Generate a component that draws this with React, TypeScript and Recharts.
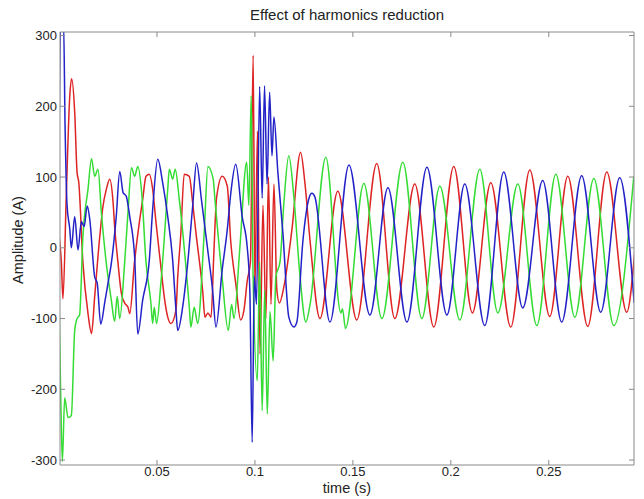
import React from 'react';
import { LineChart, Line, XAxis, YAxis } from 'recharts';

// [time (s), amplitude (A)]
const redSeries: [number, number][] = [
  [0.0000, 18], [0.0012, -21], [0.0020, -72], [0.0037, 73], [0.0055, 215], [0.0064, 239],
  [0.0080, 192], [0.0092, 107], [0.0101, 92], [0.0122, -21], [0.0148, -93], [0.0166, -121],
  [0.0182, -69], [0.0208, 16], [0.0224, 58], [0.0241, 82], [0.0259, 97], [0.0276, 64],
  [0.0284, 30], [0.0301, -21], [0.0318, -64], [0.0335, -78], [0.0352, -84], [0.0361, -93],
  [0.0385, -21], [0.0410, 36], [0.0427, 68], [0.0444, 101], [0.0461, 104], [0.0478, 83],
  [0.0495, 36], [0.0520, -27], [0.0537, -69], [0.0555, -98], [0.0571, -107], [0.0597, -88],
  [0.0606, -41], [0.0622, 21], [0.0639, 104], [0.0665, 101], [0.0682, 64], [0.0699, 21],
  [0.0733, -60], [0.0745, -98], [0.0760, -92], [0.0776, -98], [0.0790, -10], [0.0804, 70],
  [0.0833, 101], [0.0859, 87], [0.0876, 11], [0.0902, -50], [0.0927, -102], [0.0944, -88],
  [0.0961, -46], [0.0977, -20], [0.0991, 272], [0.1000, -60], [0.1013, 165], [0.1026, -150],
  [0.1041, 60], [0.1056, -100], [0.1069, 100], [0.1082, -80], [0.1097, 90], [0.1112, -60],
  [0.1125, -78], [0.1148, -55], [0.1189, 26], [0.1233, 135], [0.1255, 92], [0.1281, 11],
  [0.1332, -100], [0.1423, 80], [0.1520, -102], [0.1622, 119], [0.1714, -100], [0.1816, 90],
  [0.1913, -112], [0.2015, 115], [0.2110, -92], [0.2204, 92], [0.2306, -112], [0.2403, 110],
  [0.2505, -97], [0.2597, 101], [0.2699, -111], [0.2796, 107], [0.2898, -91], [0.2939, -5],
];

const greenSeries: [number, number][] = [
  [0.0001, -90], [0.0008, -200], [0.0017, -302], [0.0029, -212], [0.0046, -240], [0.0063, -237],
  [0.0080, -117], [0.0092, -100], [0.0105, -95], [0.0122, 16], [0.0148, 83], [0.0166, 126],
  [0.0182, 101], [0.0199, 111], [0.0216, 50], [0.0241, -21], [0.0267, -74], [0.0284, -104],
  [0.0297, -69], [0.0310, -100], [0.0335, -21], [0.0352, 50], [0.0370, 113], [0.0386, 101],
  [0.0402, 115], [0.0422, 78], [0.0444, -20], [0.0469, -78], [0.0478, -107], [0.0486, -84],
  [0.0498, -107], [0.0520, -50], [0.0555, 83], [0.0563, 111], [0.0580, 97], [0.0593, 111],
  [0.0614, 68], [0.0665, -84], [0.0673, -112], [0.0690, -84], [0.0708, -107], [0.0741, 21],
  [0.0760, 115], [0.0787, 97], [0.0796, 68], [0.0832, -40], [0.0864, -117], [0.0881, -80],
  [0.0893, -100], [0.0923, 0], [0.0958, 121], [0.0969, 60], [0.0981, 215], [0.0990, -30],
  [0.1012, -188], [0.1024, -20], [0.1037, -230], [0.1050, -60], [0.1063, -235], [0.1077, -90],
  [0.1093, -160], [0.1107, -41], [0.1128, -20], [0.1148, 64], [0.1173, 130], [0.1199, 71],
  [0.1230, -40], [0.1260, -105], [0.1281, -81], [0.1362, 128], [0.1439, -92], [0.1447, -86],
  [0.1462, -114], [0.1556, 91], [0.1648, -100], [0.1755, 121], [0.1852, -100], [0.1944, 87],
  [0.2046, -102], [0.2148, 111], [0.2240, -92], [0.2342, 90], [0.2439, -110], [0.2536, 104],
  [0.2633, -98], [0.2730, 98], [0.2832, -110], [0.2934, 101],
];

const blueSeries: [number, number][] = [
  [0.0001, 175], [0.0008, 320], [0.0023, 320], [0.0031, 170], [0.0041, 60], [0.0055, 26],
  [0.0063, 0], [0.0080, 44], [0.0097, -3], [0.0114, 37], [0.0128, 30], [0.0144, 59],
  [0.0157, 40], [0.0182, -41], [0.0195, -50], [0.0213, -108], [0.0233, -78], [0.0250, -50],
  [0.0267, -22], [0.0292, 44], [0.0310, 108], [0.0327, 78], [0.0343, 73], [0.0361, 44],
  [0.0386, -13], [0.0402, -122], [0.0427, -74], [0.0461, -17], [0.0478, 54], [0.0504, 125],
  [0.0529, 92], [0.0555, 44], [0.0580, -17], [0.0597, -88], [0.0606, -117], [0.0631, -84],
  [0.0657, -21], [0.0682, 58], [0.0702, 120], [0.0727, 68], [0.0759, -3], [0.0784, -60],
  [0.0801, -112], [0.0833, -31], [0.0859, 26], [0.0876, 75], [0.0902, 118], [0.0935, 44],
  [0.0961, 0], [0.0974, -60], [0.0986, -275], [0.0997, -40], [0.1008, -80], [0.1024, 228],
  [0.1037, 70], [0.1049, 229], [0.1062, 90], [0.1075, 220], [0.1087, 130], [0.1097, 185],
  [0.1117, 107], [0.1143, 20], [0.1173, -98], [0.1199, -112], [0.1214, -105], [0.1245, 10],
  [0.1276, 70], [0.1291, 77], [0.1306, 72], [0.1383, -105], [0.1480, 117], [0.1587, -95],
  [0.1679, 85], [0.1776, -105], [0.1878, 114], [0.1980, -95], [0.2071, 90], [0.2173, -110],
  [0.2270, 107], [0.2367, -85], [0.2469, 95], [0.2566, -105], [0.2668, 102], [0.2765, -91],
  [0.2862, 99], [0.2936, -78],
];

const xTicks = [0.05, 0.1, 0.15, 0.2, 0.25];
const xTickLabels = ['0.05', '0.1', '0.15', '0.2', '0.25'];
const yTicks = [-300, -200, -100, 0, 100, 200, 300];
const yTickLabels = ['-300', '-200', '-100', '0', '100', '200', '300'];

const chartTitle = 'Effect of harmonics reduction';
const xLabel = 'time (s)';
const yLabel = 'Amplitude (A)';

const toRows = (s: [number, number][]) => s.map(([t, v]) => ({ t, v }));
const redData = toRows(redSeries);
const greenData = toRows(greenSeries);
const blueData = toRows(blueSeries);

const FONT = '"Liberation Sans", Arial, Helvetica, sans-serif';
const FRAME = '#8a8a8a';
const TICK_LEN = 5;

const BottomTick = (p: any) => {
  const i = xTicks.indexOf(p.payload.value);
  return (
    <g>
      <line x1={p.x} y1={p.y} x2={p.x} y2={p.y - TICK_LEN} stroke={FRAME} />
      <text x={p.x} y={p.y + 11} textAnchor="middle" fontSize={13} fill="#222" fontFamily={FONT}>
        {i >= 0 ? xTickLabels[i] : String(p.payload.value)}
      </text>
    </g>
  );
};
const TopTick = (p: any) => (
  <line x1={p.x} y1={p.y} x2={p.x} y2={p.y + TICK_LEN} stroke={FRAME} />
);
const LeftTick = (p: any) => {
  const i = yTicks.indexOf(p.payload.value);
  return (
    <g>
      <line x1={p.x} y1={p.y} x2={p.x + TICK_LEN} y2={p.y} stroke={FRAME} />
      <text x={p.x - 3} y={p.y + 4.5} textAnchor="end" fontSize={13} fill="#222" fontFamily={FONT}>
        {i >= 0 ? yTickLabels[i] : String(p.payload.value)}
      </text>
    </g>
  );
};
const RightTick = (p: any) => (
  <line x1={p.x} y1={p.y} x2={p.x - TICK_LEN} y2={p.y} stroke={FRAME} />
);

export default function App() {
  const xDomain: [number, number] = [0.0005, 0.2935];
  const yDomain: [number, number] = [-307, 305];
  return (
    <div style={{ position: 'absolute', left: 0, top: 0, width: 644, height: 499, background: '#fff', fontFamily: FONT }}>
      <LineChart width={644} height={499} data={redData} margin={{ top: 2, right: 0, bottom: 4, left: 0 }}>
        <XAxis xAxisId="b" dataKey="t" type="number" domain={xDomain} ticks={xTicks} allowDataOverflow
          orientation="bottom" height={30} tickSize={0} tickMargin={0} tickLine={false}
          axisLine={{ stroke: FRAME }} tick={BottomTick} interval={0} />
        <XAxis xAxisId="top" dataKey="t" type="number" domain={xDomain} ticks={xTicks} allowDataOverflow
          orientation="top" height={30} tickSize={0} tickMargin={0} tickLine={false}
          axisLine={{ stroke: FRAME }} tick={TopTick} interval={0} />
        <YAxis yAxisId="l" type="number" domain={yDomain} ticks={yTicks} allowDataOverflow
          orientation="left" width={60} tickSize={0} tickMargin={0} tickLine={false}
          axisLine={{ stroke: FRAME }} tick={LeftTick} interval={0} />
        <YAxis yAxisId="r" type="number" domain={yDomain} ticks={yTicks} allowDataOverflow
          orientation="right" width={10} tickSize={0} tickMargin={0} tickLine={false}
          axisLine={{ stroke: FRAME }} tick={RightTick} interval={0} />
        <Line xAxisId="b" yAxisId="l" data={redData} dataKey="v" type="monotone" stroke="#dd2323"
          strokeWidth={1.5} dot={false} isAnimationActive={false} />
        <Line xAxisId="b" yAxisId="l" data={greenData} dataKey="v" type="monotone" stroke="#34dc34"
          strokeWidth={1.5} dot={false} isAnimationActive={false} />
        <Line xAxisId="b" yAxisId="l" data={blueData} dataKey="v" type="monotone" stroke="#2222c8"
          strokeWidth={1.5} dot={false} isAnimationActive={false} />
      </LineChart>
      <div style={{ position: 'absolute', left: 60, top: 6, width: 574, textAlign: 'center', fontSize: 15, lineHeight: '18px', color: '#222' }}>
        {chartTitle}
      </div>
      <div style={{ position: 'absolute', left: 60, top: 480, width: 574, textAlign: 'center', fontSize: 14.5, lineHeight: '16px', color: '#222' }}>
        {xLabel}
      </div>
      <div style={{ position: 'absolute', left: 18 - 100, top: 240 - 8, width: 200, height: 16, textAlign: 'center', fontSize: 14.5, lineHeight: '16px', color: '#222', transform: 'rotate(-90deg)' }}>
        {yLabel}
      </div>
    </div>
  );
}
